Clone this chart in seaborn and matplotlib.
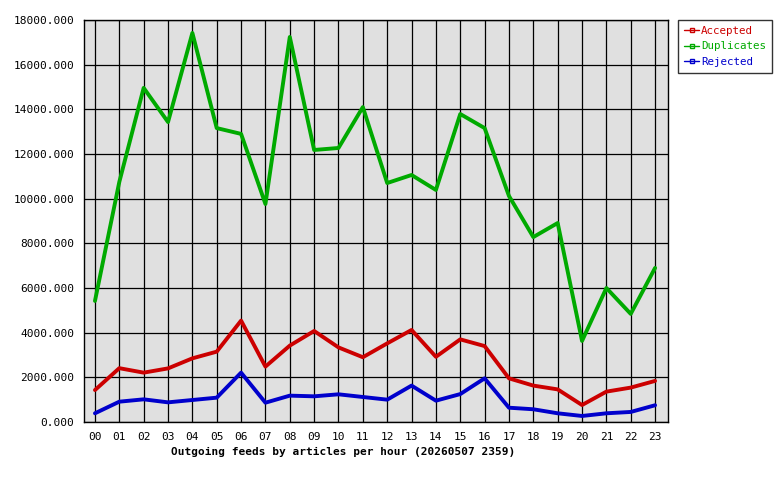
import numpy as np
import pandas as pd
import matplotlib
matplotlib.use("Agg")
import matplotlib.pyplot as plt
import seaborn as sns
from matplotlib.lines import Line2D

hours = ["%02d" % h for h in range(24)]
accepted = [1430, 2410, 2210, 2400, 2850, 3150, 4540, 2480, 3420, 4075, 3340, 2900,
            3520, 4120, 2920, 3700, 3400, 1955, 1630, 1460, 760, 1360, 1540, 1840]
duplicates = [5420, 10750, 14960, 13430, 17420, 13160, 12900, 9760, 17240, 12180, 12270, 14100,
              10700, 11060, 10390, 13790, 13160, 10120, 8280, 8910, 3630, 6000, 4840, 6900]
rejected = [390, 910, 1015, 880, 985, 1090, 2210, 865, 1180, 1150, 1240, 1120,
            1000, 1630, 955, 1250, 1955, 640, 570, 390, 270, 390, 450, 750]
series = ["Accepted", "Duplicates", "Rejected"]
colors = {"Accepted": "#cc0000", "Duplicates": "#00aa00", "Rejected": "#0000cc"}

df = pd.DataFrame({"hour": list(range(24)) * 3,
                   "value": accepted + duplicates + rejected,
                   "series": np.repeat(series, 24)})

sns.set_style("white")
plt.rcParams["font.family"] = ["DejaVu Sans Mono"]
plt.rcParams["text.color"] = "black"
plt.rcParams["xtick.color"] = "black"
plt.rcParams["ytick.color"] = "black"

fig = plt.figure(figsize=(7.8, 4.8), dpi=100)
ax = fig.add_axes([84 / 780, 58 / 480, 584 / 780, 402 / 480])
ax.set_facecolor("#e0e0e0")

sns.lineplot(data=df, x="hour", y="value", hue="series", palette=colors,
             linewidth=2.8, legend=False, ax=ax, zorder=3)

ax.set_xlim(-0.45, 23.53)
ax.set_ylim(0, 18000)
ax.set_xticks(range(24))
ax.set_xticklabels(hours)
ax.set_yticks(range(0, 18001, 2000))
ax.set_yticklabels(["%d.000" % v for v in range(0, 18001, 2000)])
ax.grid(True, color="black", linewidth=0.9, zorder=1)
ax.set_axisbelow(True)
for s in ax.spines.values():
    s.set_color("black")
    s.set_linewidth(1)
ax.tick_params(axis="both", labelsize=8, length=4, width=0.9, colors="black", pad=3)
ax.set_xlabel("")
ax.set_ylabel("")

fig.text(343 / 780, 1 - 452 / 480, "Outgoing feeds by articles per hour (20260507 2359)",
         ha="center", va="center", fontsize=8, fontweight="bold", color="black")

handles = [Line2D([0], [0], color=colors[s], linewidth=1, marker="s", markersize=3,
                  markerfacecolor="none", markeredgecolor=colors[s]) for s in series]
leg = fig.legend(handles, series, loc="upper left", bbox_to_anchor=(678 / 780, 1 - 20 / 480),
                 fontsize=7.8, frameon=True, fancybox=False, handlelength=1.4,
                 handletextpad=0.2, borderpad=0.55, labelspacing=0.5, borderaxespad=0)
leg.get_frame().set_edgecolor("black")
leg.get_frame().set_linewidth(1)
for t, s in zip(leg.get_texts(), series):
    t.set_color(colors[s])

fig.savefig("out.png", dpi=100)
